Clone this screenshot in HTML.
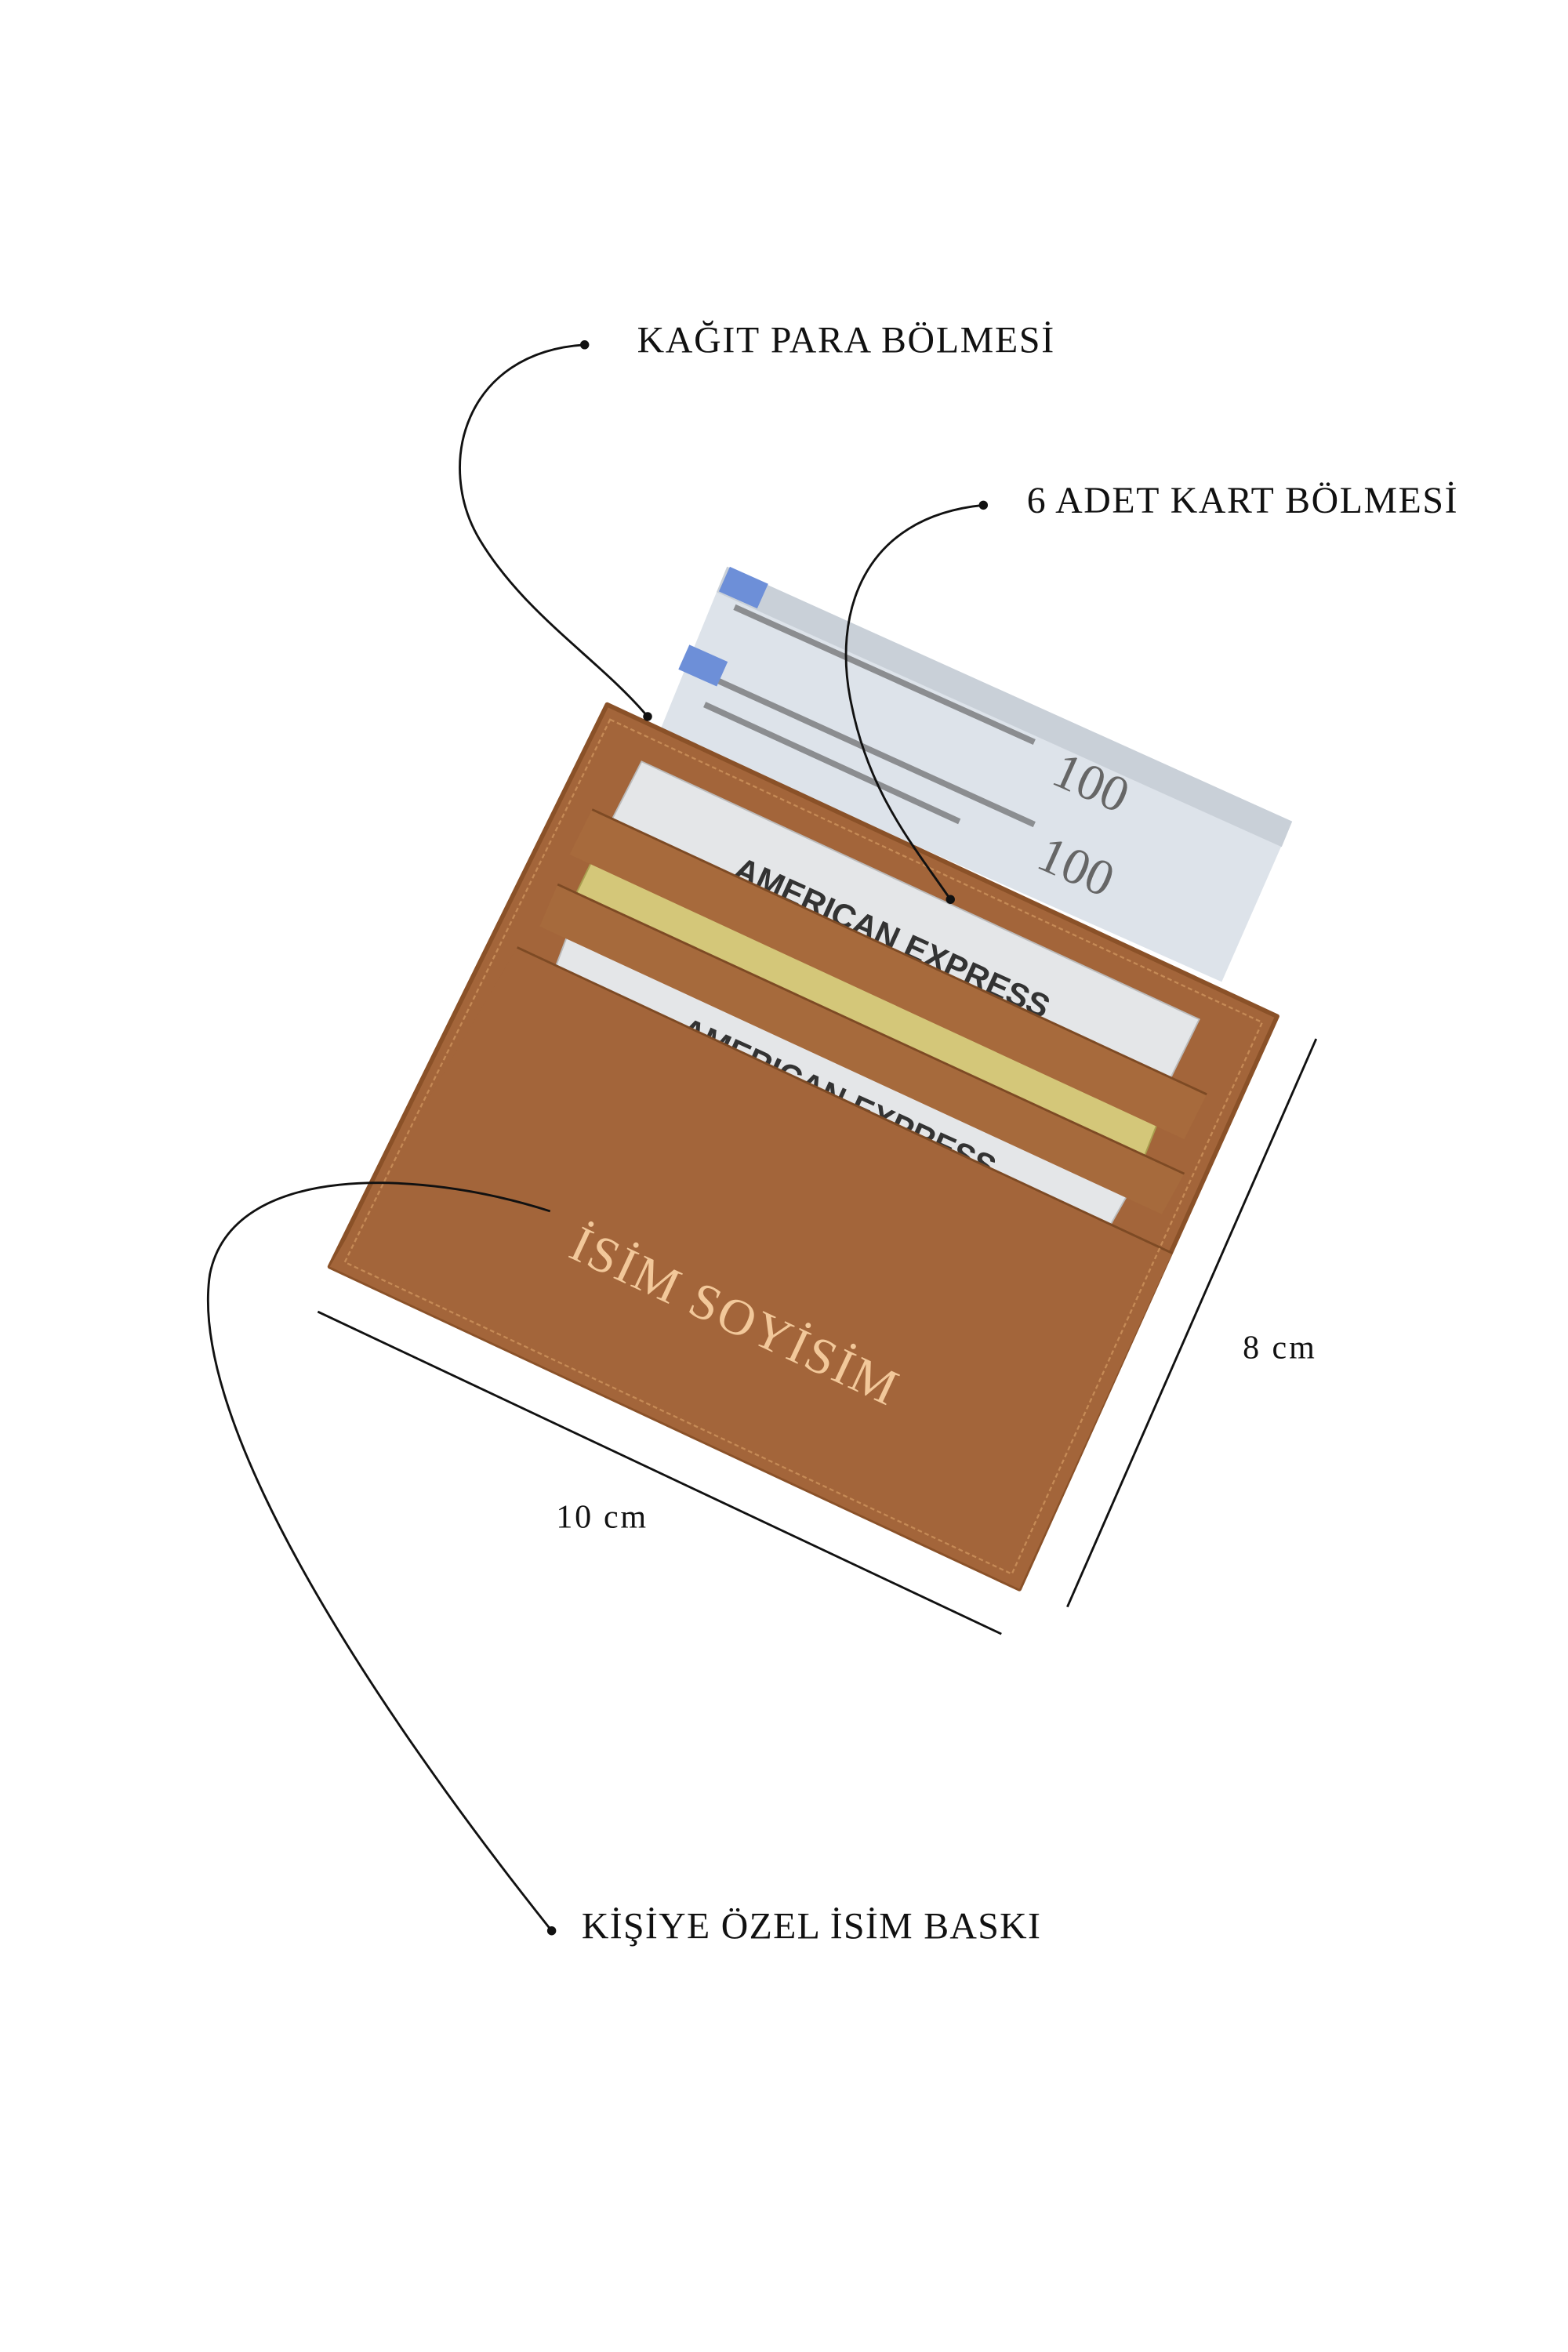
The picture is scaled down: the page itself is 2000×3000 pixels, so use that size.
<!DOCTYPE html>
<html><head><meta charset="utf-8"><style>
html,body{margin:0;padding:0;background:#fff;}
svg{display:block;}
text{font-family:"Liberation Serif",serif;fill:#111;}
</style></head><body>
<svg width="2000" height="3000" viewBox="0 0 1046 1569" preserveAspectRatio="none">
<rect width="1046" height="1569" fill="#fff"/>
<!-- bills -->
<polygon points="485,378 862,548 815,655 440,488" fill="#dde3ea"/>
<polygon points="485,378 862,548 855,565 478,395" fill="#c9d0d8"/>
<g stroke="#555" stroke-width="4" fill="none" opacity="0.6">
<line x1="490" y1="405" x2="690" y2="495"/>
<line x1="470" y1="450" x2="690" y2="550"/>
<line x1="470" y1="470" x2="640" y2="548"/>
</g>
<text x="0" y="0" transform="translate(700,522) rotate(24)" font-size="34" style="fill:#666">100</text>
<text x="0" y="0" transform="translate(690,578) rotate(24)" font-size="34" style="fill:#666">100</text>
<rect x="482" y="383" width="28" height="18" fill="#6d8fd8" transform="rotate(24 496 392)"/>
<rect x="455" y="435" width="28" height="18" fill="#6d8fd8" transform="rotate(24 469 444)"/>
<!-- wallet -->
<polygon points="405,470 852,678 680,1060 220,845" fill="#a3653a" stroke="#8a5128" stroke-width="3" stroke-linejoin="round"/>
<!-- cards -->
<polygon points="428,508 800,680 778,725 405,553" fill="#e4e6e8" stroke="#bbb"/>
<polygon points="398,568 775,742 760,780 380,605" fill="#d4c779" stroke="#a99e4f"/>
<polygon points="380,620 755,792 738,822 368,652" fill="#e4e6e8" stroke="#bbb"/>
<text transform="translate(488,585) rotate(24.5)" font-size="22" font-weight="bold" style="font-family:'Liberation Sans',sans-serif;fill:#333">AMERICAN EXPRESS</text>
<text transform="translate(452,692) rotate(24.5)" font-size="22" font-weight="bold" style="font-family:'Liberation Sans',sans-serif;fill:#333">AMERICAN EXPRESS</text>
<!-- pockets -->
<polygon points="395,540 805,730 790,760 380,570" fill="#a76a3c"/>
<polygon points="372,590 790,783 775,810 360,618" fill="#a66a3c"/>
<polygon points="345,632 782,836 680,1060 220,845" fill="#a3653a"/>
<g stroke="#7d4a24" stroke-width="1.5" fill="none">
<line x1="395" y1="540" x2="805" y2="730"/>
<line x1="372" y1="590" x2="790" y2="783"/>
<line x1="345" y1="632" x2="782" y2="836"/>
</g>
<polygon points="407,480 842,682 675,1050 230,842" fill="none" stroke="#c58a56" stroke-width="1.2" stroke-dasharray="3,2"/>
<text transform="translate(378,838) rotate(25)" font-size="34" textLength="236" style="fill:#f2c89a">İSİM SOYİSİM</text>
<!-- connectors -->
<g stroke="#111" stroke-width="1.5" fill="none">
<path d="M390,230 C310,235 290,310 320,360 C350,410 400,440 432,478"/>
<path d="M656,337 C575,345 555,410 568,470 C580,530 610,565 634,600"/>
<path d="M367,808 C280,780 155,775 140,850 C125,950 250,1140 368,1288"/>
<line x1="212" y1="875" x2="668" y2="1090"/>
<line x1="878" y1="693" x2="712" y2="1072"/>
</g>
<g fill="#111">
<circle cx="390" cy="230" r="3"/>
<circle cx="432" cy="478" r="3"/>
<circle cx="656" cy="337" r="3"/>
<circle cx="634" cy="600" r="3"/>
<circle cx="368" cy="1288" r="3"/>
</g>
<text x="425" y="235" font-size="25" textLength="278">KAĞIT PARA BÖLMESİ</text>
<text x="685" y="342" font-size="25" textLength="287">6 ADET KART BÖLMESİ</text>
<text x="388" y="1293" font-size="25" textLength="306">KİŞİYE ÖZEL İSİM BASKI</text>
<text x="371" y="1019" font-size="22" textLength="60">10 cm</text>
<text x="829" y="906" font-size="22" textLength="48">8 cm</text>
</svg>
</body></html>
